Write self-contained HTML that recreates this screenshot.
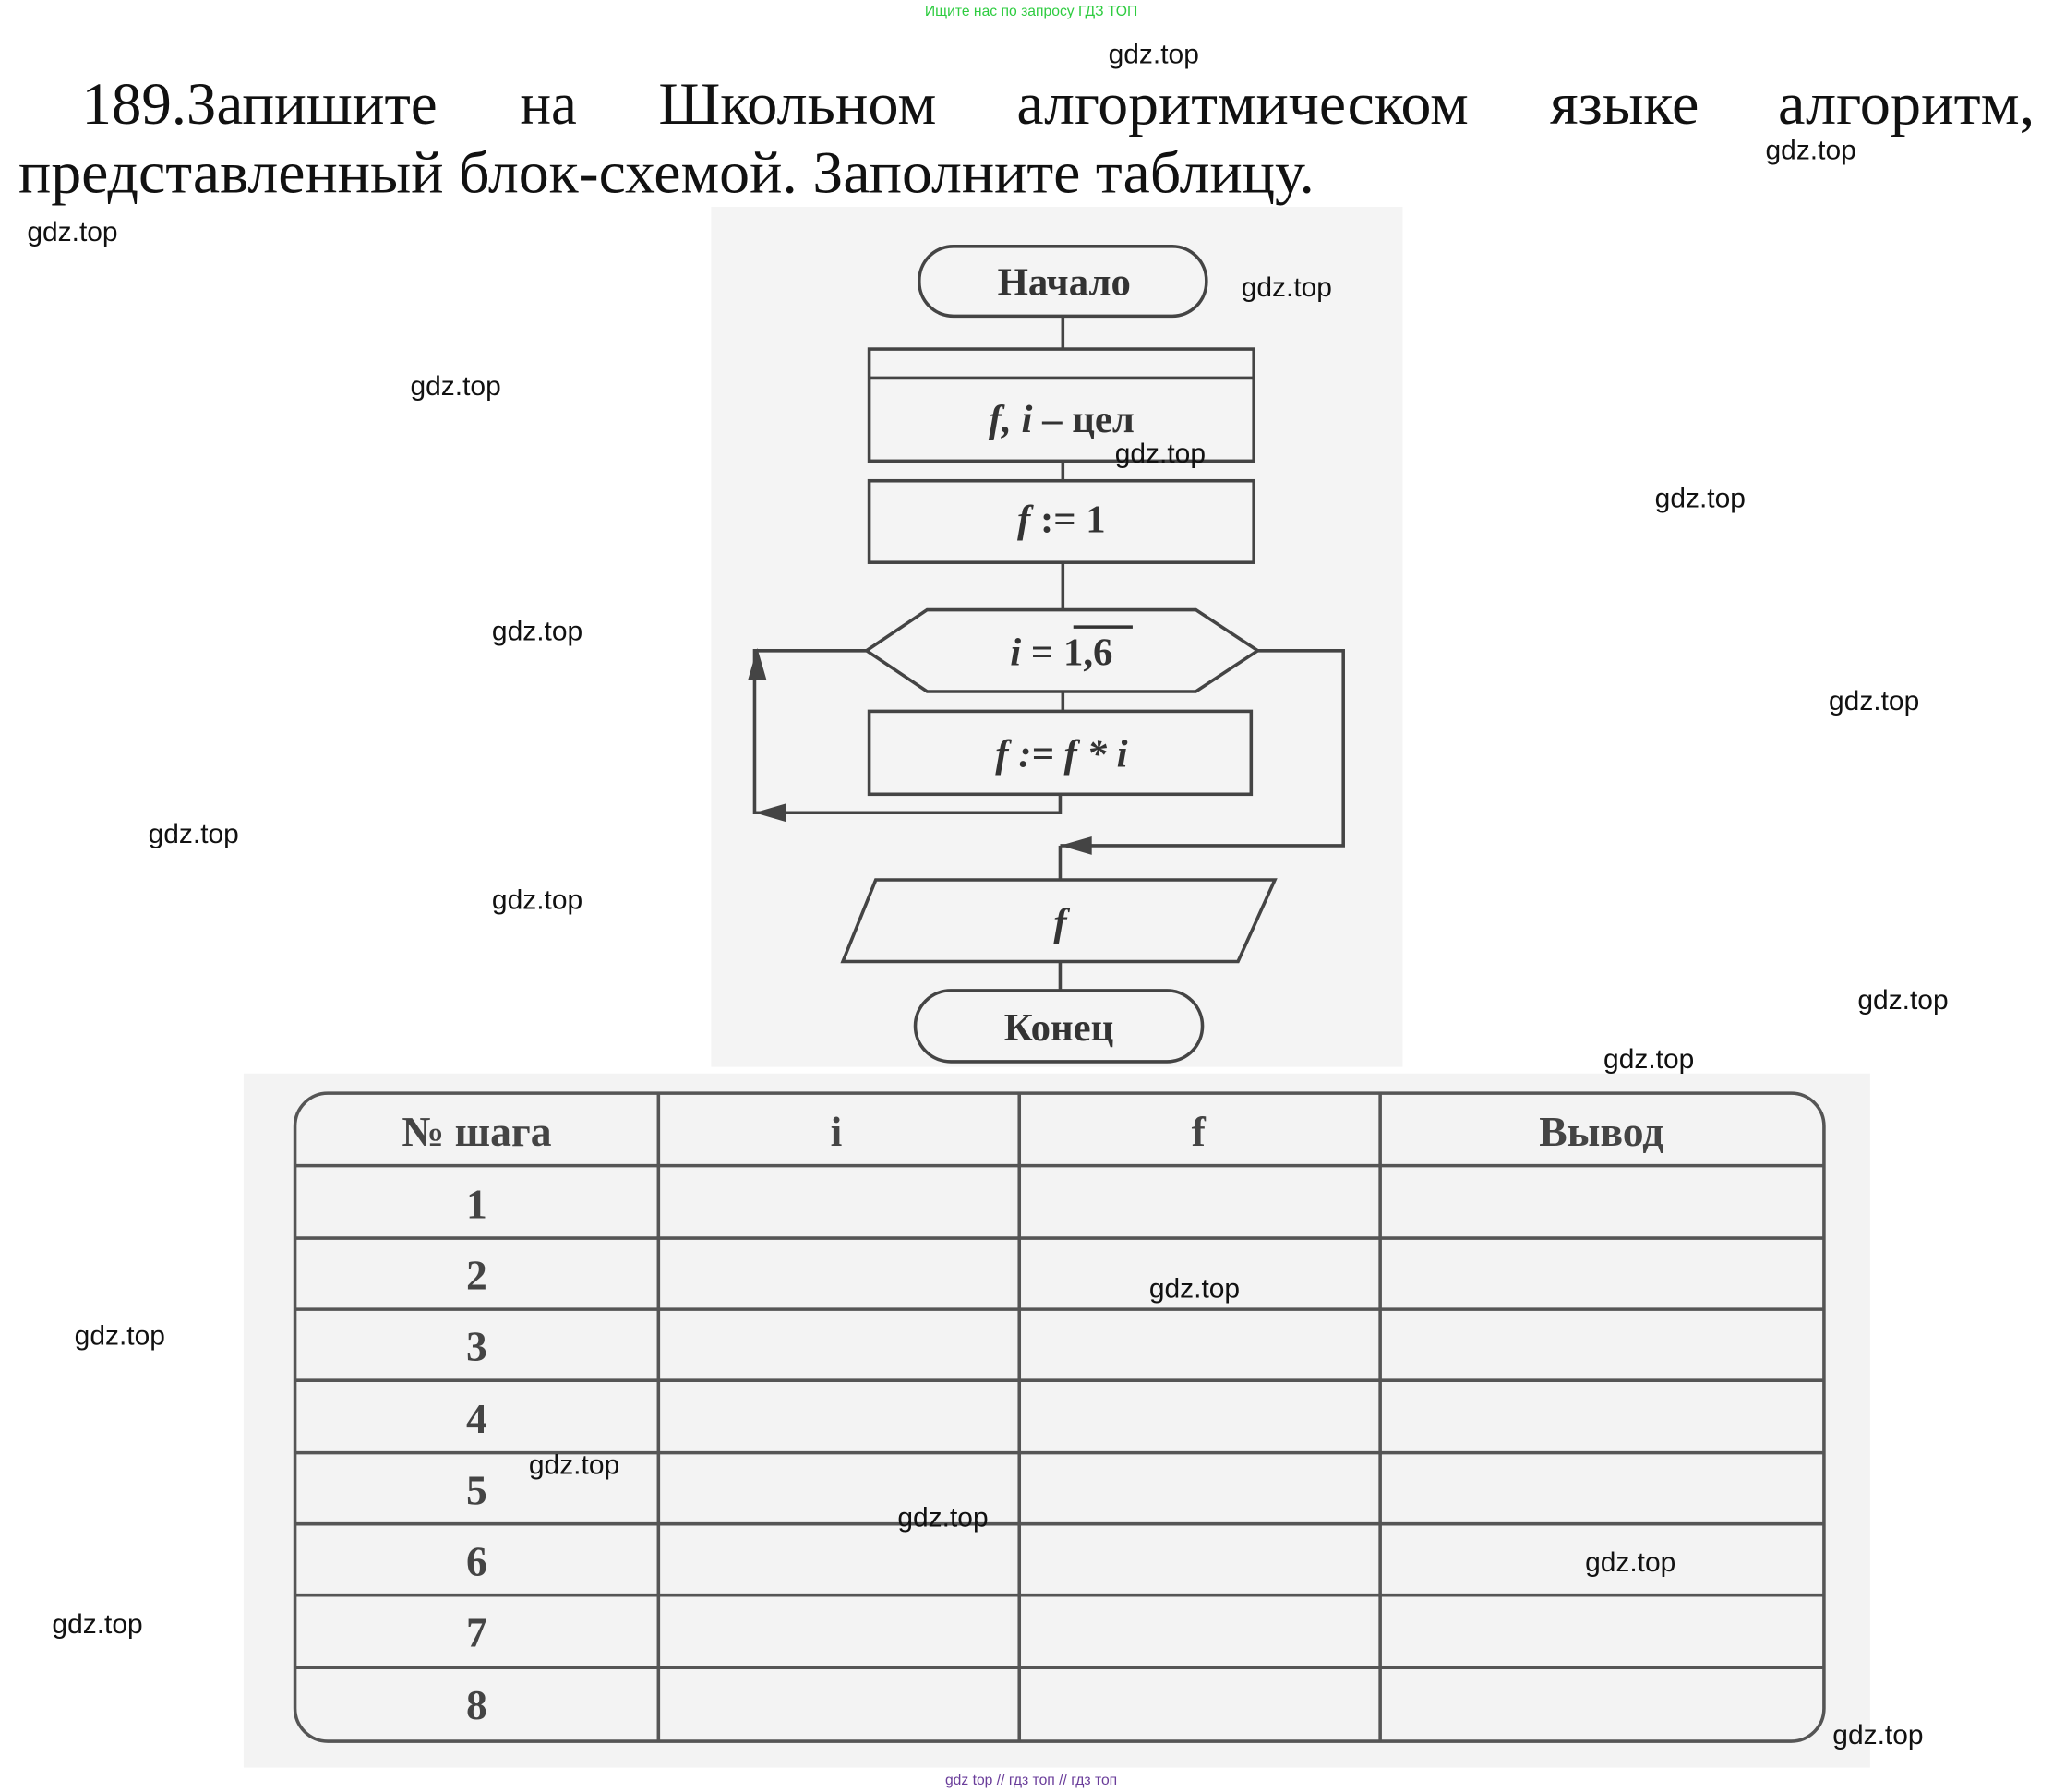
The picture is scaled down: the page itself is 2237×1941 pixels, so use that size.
<!DOCTYPE html>
<html><head><meta charset="utf-8"><style>html,body{margin:0;padding:0;background:#fff}svg{display:block}</style></head>
<body>
<svg width="2237" height="1941" viewBox="0 0 1568 1360.5" preserveAspectRatio="none" xmlns="http://www.w3.org/2000/svg">
<rect x="0" y="0" width="1568" height="1361" fill="#fff"/>
<rect x="540" y="157" width="525" height="653" fill="#f4f4f4"/>
<rect x="185" y="815" width="1235" height="527" fill="#f3f3f3"/>
<text x="783" y="12" font-family="Liberation Sans, sans-serif" font-size="11" fill="#2ecc40" text-anchor="middle">Ищите нас по запросу ГДЗ ТОП</text>
<g font-family="Liberation Serif, serif" font-size="45" fill="#111" lengthAdjust="spacingAndGlyphs">
<text x="62" y="94" textLength="270" lengthAdjust="spacingAndGlyphs">189.Запишите</text>
<text x="395" y="94" textLength="43" lengthAdjust="spacingAndGlyphs">на</text>
<text x="500" y="94" textLength="211" lengthAdjust="spacingAndGlyphs">Школьном</text>
<text x="772" y="94" textLength="343" lengthAdjust="spacingAndGlyphs">алгоритмическом</text>
<text x="1177" y="94" textLength="113" lengthAdjust="spacingAndGlyphs">языке</text>
<text x="1350" y="94" textLength="195" lengthAdjust="spacingAndGlyphs">алгоритм,</text>
<text x="14" y="146" textLength="984" lengthAdjust="spacingAndGlyphs">представленный блок-схемой. Заполните таблицу.</text>
</g>
<g stroke="#444" stroke-width="2.5" fill="none">
<rect x="698" y="187" width="218" height="53" rx="26"/>
<line x1="807" y1="240" x2="807" y2="265"/>
<rect x="660" y="265" width="292" height="85"/>
<line x1="660" y1="287" x2="952" y2="287"/>
<line x1="807" y1="350" x2="807" y2="365"/>
<rect x="660" y="365" width="292" height="62"/>
<line x1="807" y1="427" x2="807" y2="463"/>
<polygon points="658,494 704,463 908,463 955,494 908,525 704,525"/>
<line x1="807" y1="525" x2="807" y2="540"/>
<rect x="660" y="540" width="290" height="63"/>
<polyline points="805,603 805,617 573,617 573,494 658,494"/>
<polyline points="955,494 1020,494 1020,642 805,642"/>
<line x1="805" y1="642" x2="805" y2="668"/>
<polygon points="665,668 968,668 940,730 640,730"/>
<line x1="805" y1="730" x2="805" y2="752"/>
<rect x="695" y="752" width="218" height="54" rx="27"/>
</g>
<g fill="#444">
<polygon points="575,492 568,516 582,516"/>
<polygon points="573,617 597,610 597,624"/>
<polygon points="805,642 829,635 829,649"/>
</g>
<g font-family="Liberation Serif, serif" font-size="30" fill="#333" text-anchor="middle" font-weight="bold">
<text x="808" y="224">Начало</text>
<text x="806" y="328" font-style="italic">f, i <tspan font-style="normal">– цел</tspan></text>
<text x="806" y="404" font-style="italic">f <tspan font-style="normal">:= 1</tspan></text>
<text x="806" y="505"><tspan font-style="italic">i</tspan> = 1,6</text>
<text x="806" y="582" font-style="italic">f := f * i</text>
<text x="805" y="710" font-style="italic">f</text>
<text x="804" y="790">Конец</text>
</g>
<line x1="815" y1="476" x2="860" y2="476" stroke="#333" stroke-width="2.5"/>
<g stroke="#555" stroke-width="2.5" fill="none">
<rect x="224" y="830" width="1161" height="492" rx="25"/>
<line x1="500" y1="830" x2="500" y2="1322"/>
<line x1="774" y1="830" x2="774" y2="1322"/>
<line x1="1048" y1="830" x2="1048" y2="1322"/>
<line x1="224" y1="885" x2="1385" y2="885"/>
<line x1="224" y1="940" x2="1385" y2="940"/>
<line x1="224" y1="994" x2="1385" y2="994"/>
<line x1="224" y1="1048" x2="1385" y2="1048"/>
<line x1="224" y1="1103" x2="1385" y2="1103"/>
<line x1="224" y1="1157" x2="1385" y2="1157"/>
<line x1="224" y1="1211" x2="1385" y2="1211"/>
<line x1="224" y1="1266" x2="1385" y2="1266"/>
</g>
<g font-family="Liberation Serif, serif" font-size="32" fill="#444" text-anchor="middle" font-weight="bold">
<text x="362" y="870">№ шага</text>
<text x="635" y="870">i</text>
<text x="910" y="870">f</text>
<text x="1216" y="870">Вывод</text>
<g>
<text x="362" y="925">1</text><text x="362" y="979">2</text><text x="362" y="1033">3</text><text x="362" y="1088">4</text>
<text x="362" y="1142">5</text><text x="362" y="1196">6</text><text x="362" y="1250">7</text><text x="362" y="1305">8</text>
</g>
</g>
<g font-family="Liberation Sans, sans-serif" font-size="21" fill="#111" text-anchor="middle">
<text x="876" y="48">gdz.top</text><text x="1375" y="121">gdz.top</text><text x="55" y="183">gdz.top</text>
<text x="977" y="225">gdz.top</text><text x="346" y="300">gdz.top</text><text x="881" y="351">gdz.top</text>
<text x="1291" y="385">gdz.top</text><text x="408" y="486">gdz.top</text><text x="1423" y="539">gdz.top</text>
<text x="147" y="640">gdz.top</text><text x="408" y="690">gdz.top</text><text x="1445" y="766">gdz.top</text>
<text x="1252" y="811">gdz.top</text><text x="907" y="985">gdz.top</text><text x="91" y="1021">gdz.top</text>
<text x="436" y="1119">gdz.top</text><text x="716" y="1159">gdz.top</text><text x="1238" y="1193">gdz.top</text>
<text x="74" y="1240">gdz.top</text><text x="1426" y="1324">gdz.top</text>
</g>
<text x="783" y="1355" font-family="Liberation Sans, sans-serif" font-size="11" fill="#6a3d9a" text-anchor="middle">gdz top  //  гдз топ  //  гдз топ</text>
</svg>
</body></html>
